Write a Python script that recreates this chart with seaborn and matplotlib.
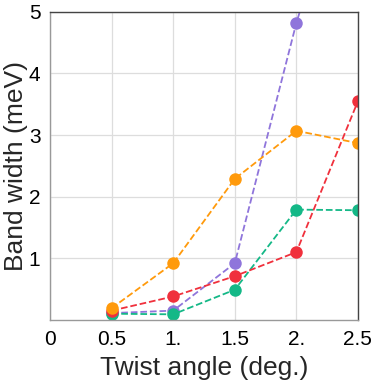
import pandas as pd
import matplotlib
matplotlib.use("Agg")
import matplotlib.pyplot as plt
import seaborn as sns

# Twist angles (deg.) and band widths (meV)
angles = [0.5, 1.0, 1.5, 2.0, 2.5]
purple_bw = [0.11, 0.15, 0.92, 4.82, 8.1]
green_bw = [0.10, 0.09, 0.49, 1.79, 1.78]
red_bw = [0.15, 0.38, 0.71, 1.10, 3.55]
orange_bw = [0.19, 0.92, 2.29, 3.07, 2.87]

x_ticks = [0, 0.5, 1.0, 1.5, 2.0, 2.5]
x_labels = ["0", "0.5", "1.", "1.5", "2.", "2.5"]
y_ticks = [1, 2, 3, 4, 5]
y_labels = ["1", "2", "3", "4", "5"]

series = [
    (purple_bw, "#8f75db"),
    (green_bw, "#14b887"),
    (red_bw, "#f0303c"),
    (orange_bw, "#ff9a0c"),
]

sns.set_style("white")
plt.rcParams['font.family'] = ['Liberation Sans', 'DejaVu Sans']

fig = plt.figure(figsize=(3.74, 3.84), dpi=100)
ax = fig.add_axes([0.134, 0.167, 0.823, 0.802])

for vals, col in series:
    df = pd.DataFrame({'angle': angles, 'bw': vals})
    sns.lineplot(data=df, x='angle', y='bw', ax=ax, color=col, linestyle='--',
                 linewidth=1.3, marker='o', markersize=9, markeredgewidth=0,
                 dashes=(4, 2.2), zorder=3)

ax.set_xlim(0, 2.5)
ax.set_ylim(0, 5)
ax.set_xticks(x_ticks)
ax.set_xticklabels(x_labels)
ax.set_yticks(y_ticks)
ax.set_yticklabels(y_labels)
ax.tick_params(length=0, labelsize=15, pad=7, colors='black')
ax.grid(True, color='#dddddd', linewidth=0.9)
ax.set_xlabel('Twist angle (deg.)', fontsize=19, labelpad=5)
ax.set_ylabel('Band width (meV)', fontsize=19)
ax.yaxis.set_label_coords(-0.072, 0.5)

for side in ['left', 'bottom']:
    ax.spines[side].set_color('#999999')
for side in ['top', 'right']:
    ax.spines[side].set_color('#444444')
for sp in ax.spines.values():
    sp.set_linewidth(1.0)
    sp.set_zorder(4)

fig.savefig('out.png', dpi=100)
